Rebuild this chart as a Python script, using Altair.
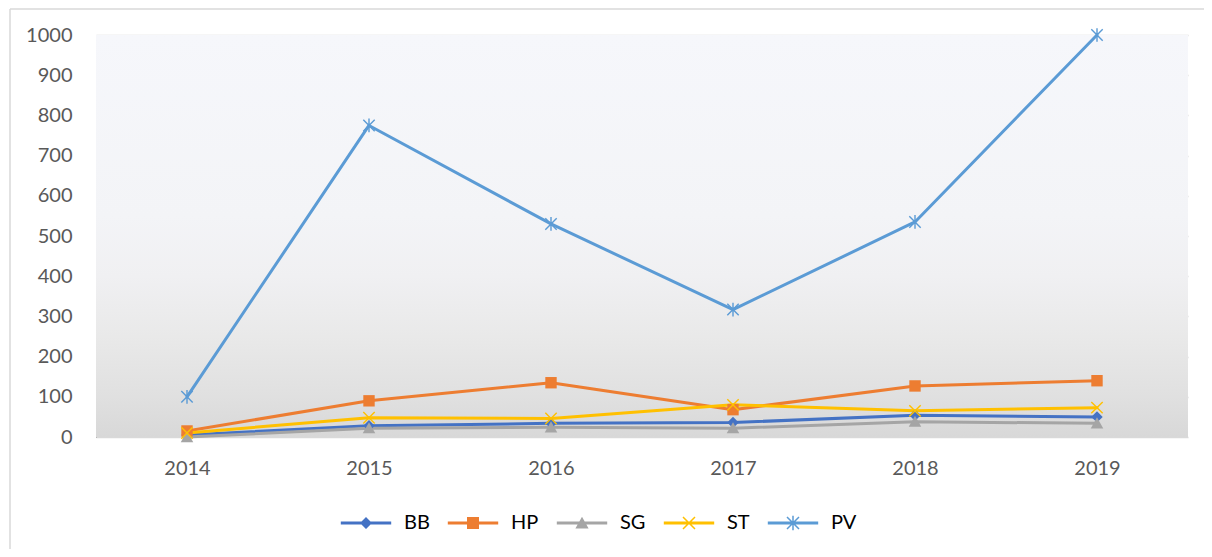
import altair as alt
import pandas as pd

years = ["2014", "2015", "2016", "2017", "2018", "2019"]
series_names = ["BB", "HP", "SG", "ST", "PV"]
BB = [5, 28, 34, 36, 54, 50]
HP = [15, 90, 135, 68, 127, 140]
SG = [0, 22, 24, 22, 38, 34]
ST = [10, 48, 46, 80, 65, 73]
PV = [100, 775, 530, 317, 535, 1000]
colors = ["#4472c4", "#ed7d31", "#a5a5a5", "#ffc000", "#5b9bd5"]
y_ticks = list(range(0, 1001, 100))

rows = []
for name, vals in zip(series_names, [BB, HP, SG, ST, PV]):
    for yr, v in zip(years, vals):
        rows.append({"year": yr, "series": name, "value": v})
df = pd.DataFrame(rows)

W, H = 1092, 402
FONT = "Lato"

bar1 = "M-0.912,-1.088L1.088,0.912L0.912,1.088L-1.088,-0.912Z"
bar2 = "M-0.912,1.088L-1.088,0.912L0.912,-1.088L1.088,-0.912Z"
vbar = "M-0.125,-1.2L0.125,-1.2L0.125,1.2L-0.125,1.2Z"
marker_paths = {
    "BB": "M0,-1L1,0L0,1L-1,0Z",
    "HP": "M-1,-1H1V1H-1Z",
    "SG": "M0,-1.05L1.1,0.9H-1.1Z",
    "ST": bar1 + bar2,
    "PV": bar1 + bar2 + vbar,
}
line_seg = "M-4.2,-0.25H4.2V0.25H-4.2Z"
legend_paths = [line_seg + marker_paths[n] for n in series_names]

color_scale = alt.Scale(domain=series_names, range=colors)
x_enc = alt.X("year:O", title=None, scale=alt.Scale(padding=0.5),
              axis=alt.Axis(labelAngle=0, domain=False, ticks=False, grid=False,
                            labelFont=FONT, labelFontSize=20, labelColor="#595959",
                            labelBaseline="middle", labelPadding=31))
y_enc = alt.Y("value:Q", title=None,
              scale=alt.Scale(domain=[0, 1000], nice=False),
              axis=alt.Axis(values=y_ticks, format="d", domain=True, domainColor="#868686",
                            domainWidth=1, ticks=False, grid=True, gridColor="#d9d9d9",
                            gridWidth=1.5, labelFont=FONT, labelFontSize=20,
                            labelColor="#595959", labelPadding=24))

one = alt.Data(values=[{"a": 1}])

bg = alt.Chart(one).mark_rect(
    color=alt.Gradient(
        gradient="linear", x1=0, x2=0, y1=0, y2=1,
        stops=[
            alt.GradientStop(offset=0, color="#f6f7fb"),
            alt.GradientStop(offset=0.45, color="#f3f4f7"),
            alt.GradientStop(offset=0.6, color="#f0f0f2"),
            alt.GradientStop(offset=0.75, color="#e9e9e9"),
            alt.GradientStop(offset=0.9, color="#e0e0e0"),
            alt.GradientStop(offset=1, color="#d8d8d8"),
        ],
    )
).encode(x=alt.value(0), x2=alt.value(W), y=alt.value(0), y2=alt.value(H))

border_top = alt.Chart(one).mark_rule(color="#d9d9d9", strokeWidth=1.5).encode(
    x=alt.value(-86), x2=alt.value(1200), y=alt.value(-26))
border_left = alt.Chart(one).mark_rule(color="#d9d9d9", strokeWidth=1.5).encode(
    x=alt.value(-86), y=alt.value(-26), y2=alt.value(700))

lines = alt.Chart(df).mark_line(strokeWidth=3, strokeCap="round", strokeJoin="round").encode(
    x=x_enc, y=y_enc,
    color=alt.Color("series:N", scale=color_scale, legend=None),
    order=alt.Order("year:O"),
)

point_layers = []
for name in series_names:
    point_layers.append(
        alt.Chart(df).transform_filter(alt.datum.series == name)
        .mark_point(filled=True, size=130, opacity=1, strokeWidth=0, shape=marker_paths[name])
        .encode(x=x_enc, y=y_enc,
                color=alt.Color("series:N", scale=color_scale, legend=None))
    )

legend = alt.Legend(
    title=None, orient="none", legendX=260, legendY=478, direction="horizontal",
    symbolSize=144, labelFont=FONT, labelFontSize=20, labelColor="#000000",
    labelOffset=28, columnPadding=17, symbolStrokeWidth=0, symbolOpacity=1,
)

# carrier of the legend; drawn beneath the plot background so it stays hidden
legend_layer = alt.Chart(df).transform_filter(
    "datum.value >= 20 && datum.value <= 900"
).mark_point(filled=True, opacity=1, strokeWidth=0, size=10).encode(
    x=x_enc, y=y_enc,
    color=alt.Color("series:N", scale=color_scale, legend=legend),
    shape=alt.Shape("series:N", scale=alt.Scale(domain=series_names, range=legend_paths),
                    legend=legend),
)

chart = alt.layer(border_top, border_left, legend_layer, bg, lines, *point_layers).properties(
    width=W, height=H,
    padding={"left": 88, "top": 27, "right": 16, "bottom": 112},
    autosize=alt.AutoSizeParams(type="none"),
).configure_view(stroke=None)

chart.save("out.html", embed_options={"renderer": "svg", "actions": False})
